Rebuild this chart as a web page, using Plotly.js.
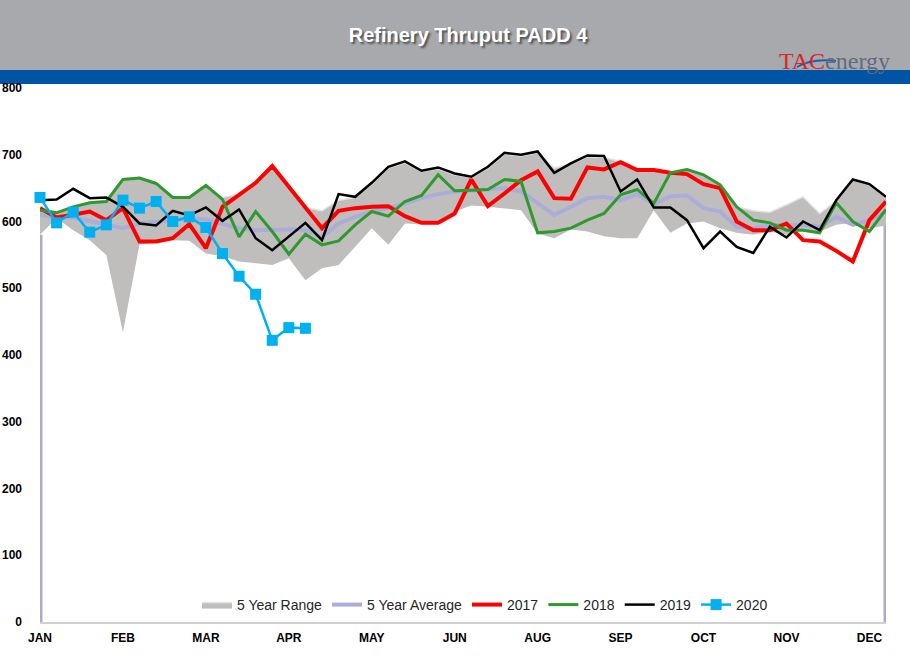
<!DOCTYPE html>
<html>
<head>
<meta charset="utf-8">
<script src="https://cdn.plot.ly/plotly-3.0.1.min.js"></script>
<style>
  html, body { margin: 0; padding: 0; background: #ffffff; }
  #chart { width: 910px; height: 659px; }
</style>
</head>
<body>
<div id="chart"></div>
<script>
// ---- data (thousand b/d), weekly, weeks 1..52 ----
const weeks = [1,2,3,4,5,6,7,8,9,10,11,12,13,14,15,16,17,18,19,20,21,22,23,24,25,26,
               27,28,29,30,31,32,33,34,35,36,37,38,39,40,41,42,43,44,45,46,47,48,49,50,51,52];
const tickWeeks = [1,6,11,16,21,26,31,36,41,46,51];
const monthLabels = ['JAN','FEB','MAR','APR','MAY','JUN','AUG','SEP','OCT','NOV','DEC'];

const rangeHigh = [622,614,622,629,631,664,666,658,637,637,655,636,641,659,684,653,621,616,632,636,
                   656,680,688,675,679,670,666,680,701,698,703,680,686,697,696,690,678,678,674,679,
                   671,656,622,616,614,625,637,612,631,662,655,636];
const rangeLow  = [580,605,587,572,550,434,566,568,572,571,552,548,540,537,535,545,512,530,535,562,
                   590,565,597,596,597,615,624,622,620,617,582,575,588,585,578,575,575,617,583,597,
                   600,590,583,580,585,580,588,585,595,598,590,594];
const avg5      = [610,606,606,601,596,590,597,600,602,605,603,596,590,587,588,588,587,576,597,607,
                   615,620,627,635,641,645,646,648,650,645,628,610,622,635,637,632,641,626,638,639,
                   620,615,592,590,595,594,595,592,607,595,602,615];
const y2017     = [620,606,610,615,602,620,570,570,575,596,560,622,640,658,683,652,620,590,616,620,
                   622,623,608,598,598,612,663,623,642,662,675,635,634,681,678,689,677,677,673,671,
                   656,650,600,587,587,597,572,570,556,540,602,630];
const y2018     = [617,613,622,628,630,663,665,657,636,636,654,633,577,615,585,551,581,565,571,595,
                   615,608,630,639,670,646,647,648,663,660,583,585,590,602,612,640,648,627,673,678,
                   670,655,622,602,598,587,587,583,628,600,585,618];
const y2019     = [632,633,649,635,636,622,597,594,616,609,621,601,618,575,557,577,598,572,641,637,
                   658,682,690,676,681,672,667,682,703,700,705,673,687,699,698,645,663,621,621,602,
                   560,585,562,553,592,576,600,587,632,663,656,637];
const weeks2020 = [1,2,3,4,5,6,7,8,9,10,11,12,13,14,15,16,17];
const y2020     = [636,598,614,584,595,632,620,630,600,607,591,552,518,491,422,441,440];

// ---- geometry helpers for decorations (pixel -> paper) ----
const W = 910, H = 659, L = 40, R = 24, T = 88, B = 37;
const pw = W - L - R, ph = H - T - B;
const px = p => (p - L) / pw;
const py = p => (H - B - p) / ph;

const tickFont = {family: 'Liberation Sans, Arial, sans-serif', size: 12, color: '#000', weight: 'bold'};
const edgeLine = {color: 'rgb(172,172,200)', width: 5};

const traces = [
  {x: weeks, y: rangeLow, mode: 'lines', line: {color: 'rgba(0,0,0,0)', width: 0},
   showlegend: false, hoverinfo: 'skip'},
  {x: weeks, y: rangeHigh, mode: 'lines', name: '5 Year Range', fill: 'tonexty',
   fillcolor: 'rgb(192,189,189)', line: {color: 'rgb(228,226,226)', width: 1.5}},
  {x: [weeks[0], weeks[0]], y: [0, rangeLow[0]],
   mode: 'lines', line: edgeLine, showlegend: false, hoverinfo: 'skip', cliponaxis: false},
  {x: [weeks[51], weeks[51]], y: [0, rangeLow[51]],
   mode: 'lines', line: edgeLine, showlegend: false, hoverinfo: 'skip', cliponaxis: false},
  {x: weeks, y: avg5, mode: 'lines', name: '5 Year Average',
   line: {color: 'rgb(172,172,216)', width: 4}},
  {x: weeks, y: y2017, mode: 'lines', name: '2017', line: {color: '#ff0000', width: 4}},
  {x: weeks, y: y2018, mode: 'lines', name: '2018', line: {color: '#2e9a2e', width: 3}},
  {x: weeks, y: y2019, mode: 'lines', name: '2019', line: {color: '#000000', width: 2.5}},
  {x: weeks2020, y: y2020, mode: 'lines+markers', name: '2020', cliponaxis: false,
   line: {color: '#00b0f0', width: 2.5},
   marker: {color: '#00b0f0', symbol: 'square', size: 11}}
];

const layout = {
  width: W, height: H,
  margin: {l: L, r: R, t: T, b: B, pad: 0},
  paper_bgcolor: '#ffffff', plot_bgcolor: '#ffffff',
  showlegend: true,
  title: {
    text: 'Refinery Thruput PADD 4',
    xref: 'container', x: 468 / W, xanchor: 'center',
    yref: 'container', y: 1 - 35 / H, yanchor: 'middle',
    font: {family: 'Liberation Sans, Arial, sans-serif', size: 20, color: '#ffffff',
           weight: 'bold', shadow: '2px 2px 2px rgba(60,60,60,0.8)'}
  },
  xaxis: {
    range: [1, 52], tickmode: 'array', tickvals: tickWeeks, ticktext: monthLabels,
    showgrid: false, zeroline: false, ticks: '', showline: true,
    linecolor: 'rgb(208,208,208)', linewidth: 2, tickfont: tickFont, ticklabelstandoff: 4,
    fixedrange: true
  },
  yaxis: {
    range: [0, 800], tickmode: 'linear', tick0: 0, dtick: 100,
    showgrid: false, zeroline: false, ticks: '', showline: false,
    tickfont: tickFont, ticklabelstandoff: 17, fixedrange: true
  },
  legend: {
    orientation: 'h', traceorder: 'normal',
    x: (485 - L) / pw, xanchor: 'center', y: py(605), yanchor: 'middle',
    bgcolor: 'rgba(0,0,0,0)', itemgap: 6,
    font: {family: 'Liberation Sans, Arial, sans-serif', size: 14, color: '#262626'}
  },
  shapes: [
    {type: 'rect', xref: 'paper', yref: 'paper', x0: px(0), x1: px(W), y0: py(70), y1: py(0),
     fillcolor: 'rgb(167,169,172)', line: {width: 0}, layer: 'below'},
    {type: 'rect', xref: 'paper', yref: 'paper', x0: px(0), x1: px(W), y0: py(84), y1: py(70),
     fillcolor: 'rgb(0,84,164)', line: {width: 0}, layer: 'below'},
    {type: 'path', xref: 'paper', yref: 'paper', layer: 'above',
     path: 'M ' + px(797) + ',' + py(67) + ' Q ' + px(812) + ',' + py(58) + ' ' + px(836) + ',' + py(61),
     line: {color: 'rgb(40,90,170)', width: 2}}
  ],
  annotations: [
    {xref: 'paper', yref: 'paper', x: px(834), y: py(61), xanchor: 'center', yanchor: 'middle',
     showarrow: false,
     text: '<span style="color:#d6262b">TAC</span><span style="color:#5d6c82">energy</span>',
     font: {family: 'Liberation Serif, Times New Roman, serif', size: 24}}
  ]
};

Plotly.newPlot('chart', traces, layout, {staticPlot: true, displayModeBar: false});
</script>
</body>
</html>
